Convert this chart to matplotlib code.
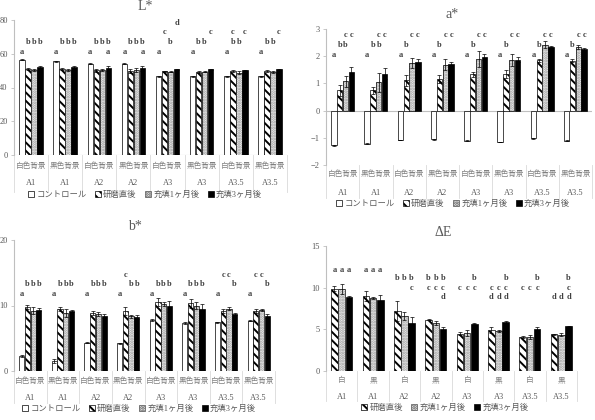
import numpy as np
import matplotlib
matplotlib.use('Agg')
import matplotlib.pyplot as plt
from matplotlib.patches import Patch

plt.rcParams['font.family'] = ['Liberation Serif', 'Noto Sans CJK JP', 'DejaVu Sans']
plt.rcParams['hatch.linewidth'] = 1.4

W, H = 595, 420

# category axis (two levels)
MATERIALS = ['A1', 'A1', 'A2', 'A2', 'A3', 'A3', 'A3.5', 'A3.5']
BACKGROUNDS = ['白色背景', '黒色背景'] * 4
BACKGROUNDS_SHORT = ['白', '黒'] * 4

SERIES_NAMES = {'control': 'コントロール', 'polish': '研磨直後',
                'one_m': '充填1ヶ月後', 'three_m': '充填3ヶ月後'}

# L*  (order: control, polish, 1 month, 3 months)
L_VALUES = [[56.5, 55.7, 54.1, 54.1, 46.6, 46.6, 46.8, 46.8],
            [51.2, 51.0, 50.2, 49.8, 49.6, 49.2, 49.6, 49.6],
            [50.2, 50.4, 50.2, 50.2, 49.2, 49.2, 48.8, 49.0],
            [52.1, 52.0, 51.5, 51.5, 50.8, 50.8, 50.2, 50.8]]
L_ERRORS = [[0.3, 0.3, 0.4, 0.3, 0.3, 0.3, 0.3, 0.3],
            [0.6, 0.6, 0.8, 1.0, 0.4, 0.4, 0.6, 0.5],
            [0.7, 0.7, 0.6, 1.2, 0.3, 0.3, 0.8, 0.7],
            [0.6, 0.5, 1.5, 1.5, 0.3, 0.3, 0.3, 0.3]]
L_LETTERS = [['a', 'a', 'a', 'a', 'a', 'a', 'a', 'a'],
             ['b', 'b', 'b', 'b', 'c', 'b', 'bc', 'b'],
             ['b', 'b', 'b', 'b', 'b', 'b', 'b', 'b'],
             ['b', 'b', 'ab', 'ab', 'd', 'c', 'c', 'c']]
L_ROWS = {'a': 61.2, 'b': 66.7, 'c': 72.7, 'd': 78.4}

# a*
A_VALUES = [[-1.28, -1.22, -1.08, -1.05, -1.10, -1.15, -1.02, -1.10],
            [0.75, 0.75, 1.12, 1.15, 1.33, 1.35, 1.85, 1.83],
            [1.08, 1.05, 1.75, 1.68, 1.90, 1.85, 2.43, 2.35],
            [1.43, 1.35, 1.80, 1.72, 1.97, 1.87, 2.35, 2.25]]
A_ERRORS = [[0.02, 0.02, 0.01, 0.02, 0.01, 0.01, 0.02, 0.02],
            [0.20, 0.13, 0.20, 0.15, 0.08, 0.15, 0.05, 0.05],
            [0.20, 0.35, 0.17, 0.20, 0.30, 0.22, 0.12, 0.08],
            [0.18, 0.20, 0.10, 0.05, 0.10, 0.10, 0.03, 0.06]]
A_LETTERS = [['a', 'a', 'a', 'a', 'a', 'a', 'a', 'a'],
             ['b', 'b', 'b', 'b', 'b', 'b', 'b', 'b'],
             ['bc', 'bc', 'c', 'c', 'c', 'c', 'c', 'c'],
             ['c', 'c', 'c', 'c', 'c', 'c', 'c', 'c']]
A_ROWS = {'a': 2.04, 'b': 2.43, 'c': 2.77}

# b*
B_VALUES = [[2.3, 1.55, 4.35, 4.25, 7.8, 7.35, 7.45, 7.7],
            [9.75, 9.5, 8.9, 9.15, 10.5, 10.35, 9.15, 9.15],
            [9.2, 8.9, 8.7, 8.35, 10.25, 10.0, 9.5, 9.25],
            [9.35, 9.1, 8.45, 8.3, 9.85, 9.5, 8.7, 8.45]]
B_ERRORS = [[0.2, 0.3, 0.1, 0.1, 0.1, 0.15, 0.1, 0.1],
            [0.3, 0.3, 0.3, 0.6, 0.6, 0.7, 0.3, 0.3],
            [0.5, 0.6, 0.3, 0.2, 0.3, 0.5, 0.2, 0.15],
            [0.2, 0.15, 0.3, 0.3, 0.8, 0.8, 0.2, 0.3]]
B_LETTERS = [['a', 'a', 'a', 'a', 'a', 'a', 'a', 'a'],
             ['b', 'b', 'b', 'c', 'b', 'b', 'c', 'c'],
             ['b', 'b', 'b', 'b', 'b', 'b', 'c', 'c'],
             ['b', 'b', 'b', 'b', 'b', 'b', 'b', 'b']]
B_ROWS = {'a': 11.8, 'b': 13.3, 'c': 14.7}

# dE  (order: polish, 1 month, 3 months)
DE_VALUES = [[9.9, 9.0, 7.2, 6.15, 4.5, 4.95, 4.1, 4.4],
             [9.8, 8.75, 6.6, 5.75, 4.55, 4.8, 4.1, 4.35],
             [8.9, 8.5, 5.8, 5.1, 5.7, 5.9, 5.0, 5.35]]
DE_ERRORS = [[0.3, 0.55, 1.2, 0.05, 0.15, 0.35, 0.1, 0.1],
             [0.6, 0.1, 0.5, 0.25, 0.35, 0.1, 0.25, 0.2],
             [0.15, 0.6, 0.7, 0.15, 0.05, 0.15, 0.25, 0.1]]
DE_LETTERS = [['a', 'a', 'b', 'bc', 'c', 'cd', 'c', 'd'],
              ['a', 'a', 'b', 'bc', 'c', 'cd', 'c', 'd'],
              ['a', 'a', 'bc', 'bcd', 'bc', 'bcd', 'bc', 'bcd']]
DE_ROWS = {'a': 12.1, 'b': 11.1, 'c': 9.9, 'd': 8.9}

GRAY_TXT = '#595959'
AXIS_GRAY = '#bfbfbf'
SEP_GRAY = '#d9d9d9'

STYLES = {
    'control': dict(facecolor='white', edgecolor='black', hatch=None),
    'polish': dict(facecolor='white', edgecolor='black', hatch='\\\\\\\\'),
    'one_m': dict(facecolor='#efefef', edgecolor='#9a9a9a', hatch='......'),
    'three_m': dict(facecolor='black', edgecolor='black', hatch=None),
}

fig = plt.figure(figsize=(W / 100, H / 100), dpi=100)


def px_rect(left, top, right, bottom):
    return [left / W, 1 - bottom / H, (right - left) / W, (bottom - top) / H]


def draw_panel(box, title, title_xy, series, values, errors, letters, rows,
               ylim, yticks, sub_labels, label_px, sep_px, legend_xy):
    rect = px_rect(*box)
    ax = fig.add_axes(rect)
    ax_h = rect[3] * H
    x = np.arange(len(MATERIALS))
    n = len(series)
    width = 0.16 if n == 4 else 0.21
    step = 0.175 if n == 4 else 0.23

    for i, key in enumerate(series):
        pos = x + (i - (n - 1) / 2) * step
        st = STYLES[key]
        if key == 'one_m':
            ax.bar(pos, values[i], width, color=st['facecolor'], edgecolor=st['edgecolor'],
                   hatch=st['hatch'], linewidth=0, zorder=2)
            ax.bar(pos, values[i], width, fill=False, edgecolor='black', linewidth=0.5, zorder=3)
        else:
            ax.bar(pos, values[i], width, color=st['facecolor'], edgecolor=st['edgecolor'],
                   hatch=st['hatch'], linewidth=0.5, zorder=2)
        ax.errorbar(pos, values[i], yerr=errors[i], fmt='none', ecolor='black',
                    elinewidth=0.5, capsize=1.2, capthick=0.5, zorder=4)
        for j, lab in enumerate(letters[i]):
            for ch in lab:
                ax.text(pos[j], rows[ch], ch, ha='center', va='center', fontsize=6,
                        fontweight='bold', color='#404040')

    ax.set_xlim(-0.5, len(MATERIALS) - 0.5)
    ax.set_ylim(*ylim)
    ax.set_yticks(yticks)
    ax.tick_params(axis='y', labelsize=6, labelcolor=GRAY_TXT, color=AXIS_GRAY,
                   length=2.5, width=0.6, pad=2)
    ax.set_xticks([])
    for s in ['top', 'right', 'bottom']:
        ax.spines[s].set_visible(False)
    ax.spines['left'].set_color(AXIS_GRAY)
    ax.spines['left'].set_linewidth(0.8)
    ax.axhline(0, color=AXIS_GRAY, linewidth=0.8, zorder=1)

    # two level category labels
    trans = ax.get_xaxis_transform()
    for b in np.arange(-0.5, len(MATERIALS), 1.0):
        ax.plot([b, b], [0, -sep_px / ax_h], transform=trans, clip_on=False,
                color=SEP_GRAY, linewidth=0.6)
    for j in range(len(MATERIALS)):
        ax.text(x[j], -label_px[0] / ax_h, sub_labels[j], transform=trans, ha='center',
                va='center', fontsize=5.5, color='#808080')
        ax.text(x[j], -label_px[1] / ax_h, MATERIALS[j], transform=trans, ha='center',
                va='center', fontsize=6, color=GRAY_TXT)

    fig.text(title_xy[0] / W, 1 - title_xy[1] / H, title, ha='center', va='center',
             fontsize=10, color=GRAY_TXT)

    handles = [Patch(facecolor=STYLES[k]['facecolor'], edgecolor='black' if k != 'one_m' else '#555555',
                     hatch=STYLES[k]['hatch'], linewidth=0.5) for k in series]
    fig.legend(handles, [SERIES_NAMES[k] for k in series], loc='center',
               bbox_to_anchor=(legend_xy[0] / W, 1 - legend_xy[1] / H), ncol=n,
               frameon=False, fontsize=6, handlelength=0.7, handleheight=0.7,
               handletextpad=0.3, columnspacing=1.0, labelcolor=GRAY_TXT)
    return ax


ALL4 = ['control', 'polish', 'one_m', 'three_m']
ALL3 = ['polish', 'one_m', 'three_m']

draw_panel((14, 20, 287, 155), 'L*', (145, 6), ALL4, L_VALUES, L_ERRORS, L_LETTERS, L_ROWS,
           (0, 80), [0, 20, 40, 60, 80], BACKGROUNDS, (11, 28), 37, (145, 195))
draw_panel((326, 29, 592, 165), 'a*', (452, 14), ALL4, A_VALUES, A_ERRORS, A_LETTERS, A_ROWS,
           (-2, 3), [-2, -1, 0, 1, 2, 3], BACKGROUNDS, (9, 28), 33, (453, 204))
draw_panel((14, 240, 275, 371), 'b*', (135, 226), ALL4, B_VALUES, B_ERRORS, B_LETTERS, B_ROWS,
           (0, 20), [0, 10, 20], BACKGROUNDS, (10, 27), 32, (139, 409))
draw_panel((326, 246, 577, 371), 'ΔE', (443, 232), ALL3, DE_VALUES, DE_ERRORS, DE_LETTERS, DE_ROWS,
           (0, 15), [0, 5, 10, 15], BACKGROUNDS_SHORT, (9, 26), 30, (445, 408))

fig.savefig('out.png', dpi=100)
